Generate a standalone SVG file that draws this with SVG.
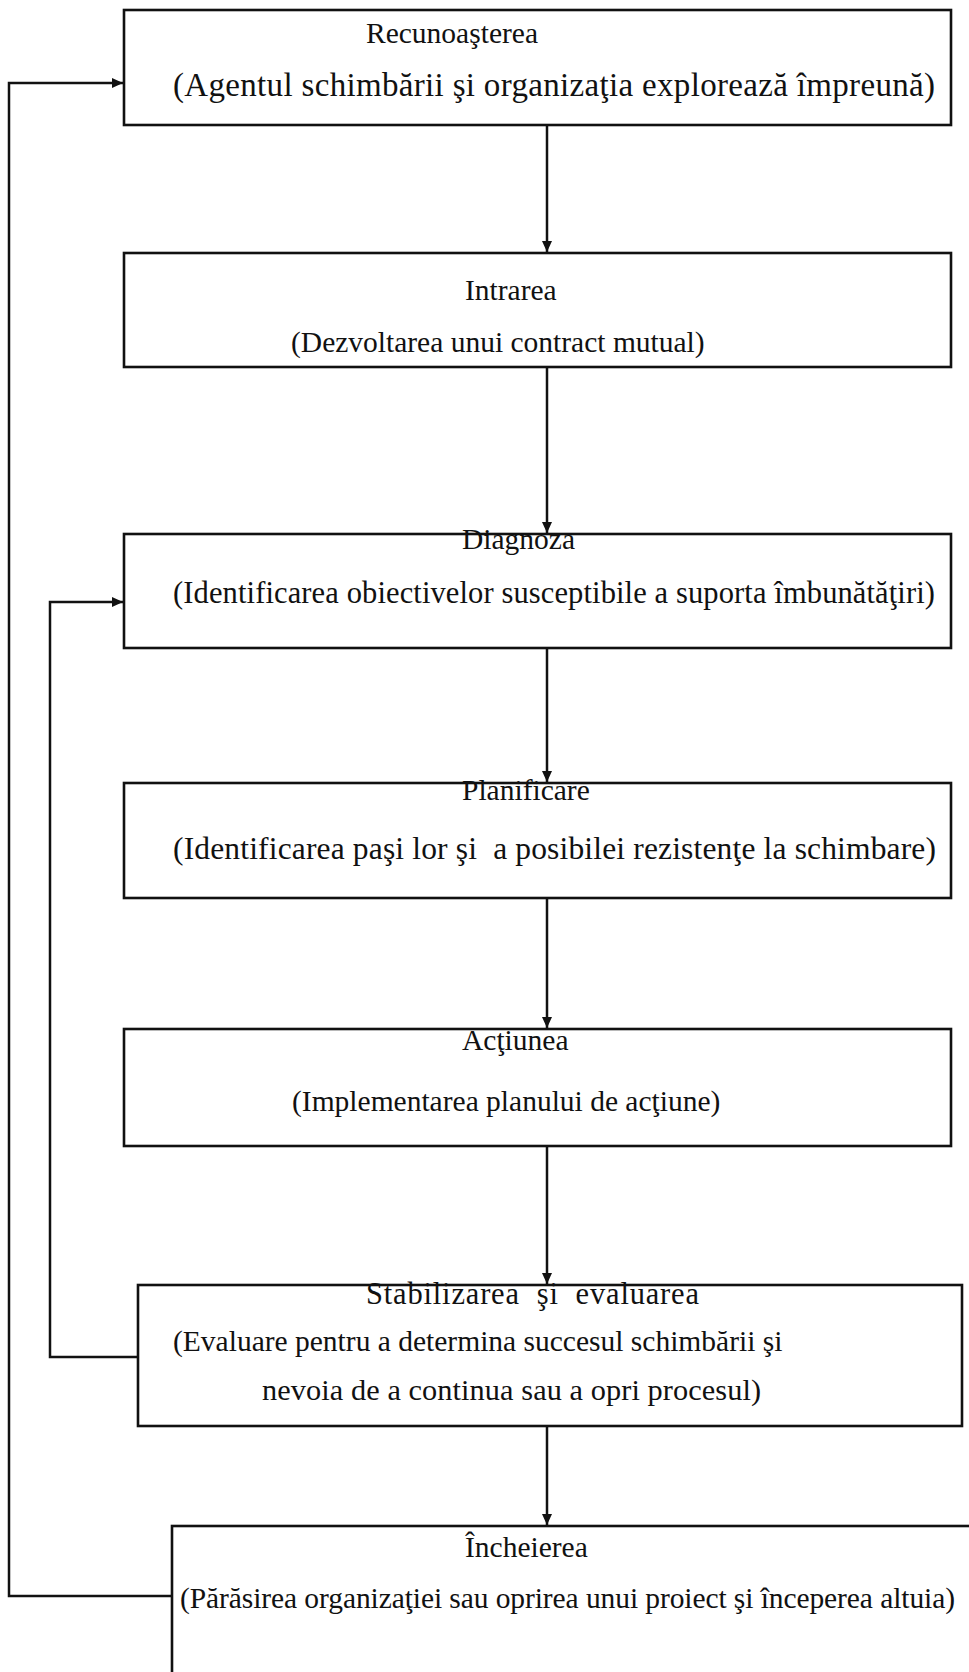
<svg xmlns="http://www.w3.org/2000/svg" width="969" height="1672" viewBox="0 0 969 1672">
  <style>
    .box { fill: #ffffff; stroke: #111111; stroke-width: 2.6; }
    .t { font-family: "Liberation Serif", "Times New Roman", serif; fill: #111111; font-size: 29.5px; }
    .con { fill: none; stroke: #111111; stroke-width: 2.5; }
  </style>
  <defs>
    <marker id="arr" markerUnits="userSpaceOnUse" markerWidth="12" markerHeight="12" refX="11" refY="5" orient="auto">
      <path d="M0,0 L11,5 L0,10 Z" fill="#111111"/>
    </marker>
  </defs>
  <rect width="969" height="1672" fill="#ffffff"/>

  <g id="connectors">
    <line class="con" x1="547" y1="125" x2="547" y2="252" marker-end="url(#arr)"/>
    <line class="con" x1="547" y1="367" x2="547" y2="533" marker-end="url(#arr)"/>
    <line class="con" x1="547" y1="648" x2="547" y2="782" marker-end="url(#arr)"/>
    <line class="con" x1="547" y1="898" x2="547" y2="1028" marker-end="url(#arr)"/>
    <line class="con" x1="547" y1="1144" x2="547" y2="1284" marker-end="url(#arr)"/>
    <line class="con" x1="547" y1="1426" x2="547" y2="1525" marker-end="url(#arr)"/>
    <path class="con" d="M172,1596 H9 V83 H123" marker-end="url(#arr)"/>
    <path class="con" d="M138,1357 H50 V602 H123" marker-end="url(#arr)"/>
  </g>

  <g id="recunoasterea">
    <rect class="box" x="124" y="10" width="827" height="115"/>
    <text class="t" x="366" y="43">Recunoaşterea</text>
    <text class="t" x="173" y="96" style="font-size:33px" textLength="762" lengthAdjust="spacing">(Agentul schimbării şi organizaţia explorează împreună)</text>
  </g>

  <g id="intrarea">
    <rect class="box" x="124" y="253" width="827" height="114"/>
    <text class="t" x="465" y="300">Intrarea</text>
    <text class="t" x="291" y="352">(Dezvoltarea unui contract mutual)</text>
  </g>

  <g id="diagnoza">
    <rect class="box" x="124" y="534" width="827" height="114"/>
    <text class="t" x="462" y="549">Diagnoza</text>
    <text class="t" x="173" y="603" style="font-size:30.5px" textLength="762" lengthAdjust="spacing">(Identificarea obiectivelor susceptibile a suporta îmbunătăţiri)</text>
  </g>

  <g id="planificare">
    <rect class="box" x="124" y="783" width="827" height="115"/>
    <text class="t" x="462" y="800">Planificare</text>
    <text class="t" x="173" y="859" style="font-size:31.5px" textLength="763" lengthAdjust="spacing" xml:space="preserve">(Identificarea paşi lor şi  a posibilei rezistenţe la schimbare)</text>
  </g>

  <g id="actiunea">
    <rect class="box" x="124" y="1029" width="827" height="117"/>
    <text class="t" x="462" y="1050">Acţiunea</text>
    <text class="t" x="292" y="1111">(Implementarea planului de acţiune)</text>
  </g>

  <g id="stabilizarea">
    <rect class="box" x="138" y="1285" width="824" height="141"/>
    <text class="t" x="366" y="1304" style="font-size:30.5px" textLength="333" lengthAdjust="spacing" xml:space="preserve">Stabilizarea  şi  evaluarea</text>
    <text class="t" x="173" y="1351">(Evaluare pentru a determina succesul schimbării şi</text>
    <text class="t" x="262" y="1400" style="font-size:30.3px" textLength="499" lengthAdjust="spacing">nevoia de a continua sau a opri procesul)</text>
  </g>

  <g id="incheierea">
    <rect class="box" x="172" y="1526" width="830" height="170"/>
    <text class="t" x="465" y="1557">Încheierea</text>
    <text class="t" x="180" y="1608" textLength="775" lengthAdjust="spacing">(Părăsirea organizaţiei sau oprirea unui proiect şi începerea altuia)</text>
  </g>
</svg>
